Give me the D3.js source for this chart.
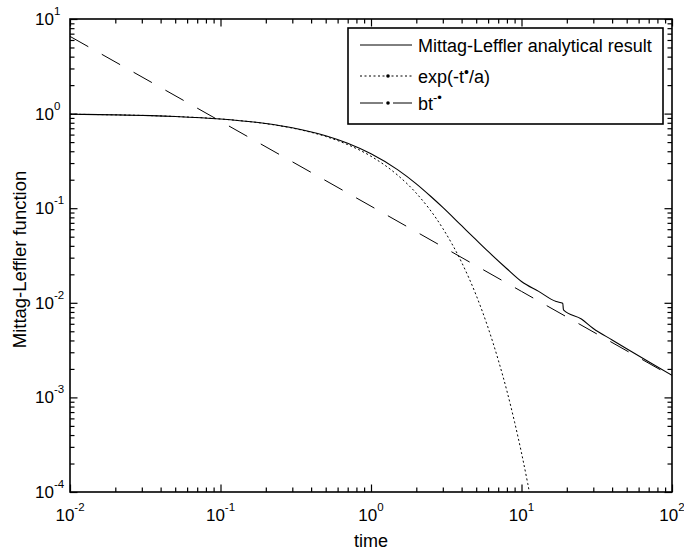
<!DOCTYPE html>
<html>
<head>
<meta charset="utf-8">
<script src="https://cdn.jsdelivr.net/npm/d3@7"></script>
<style>
  body { margin: 0; background: #fff; }
  text { font-family: "Liberation Sans", Arial, sans-serif; fill: #000; }
</style>
</head>
<body>
<div id="chart-area"></div>
<script>
// values
let timeML = [0.01, 0.02, 0.05, 0.1, 0.2, 0.3, 0.5, 0.7, 1, 1.5, 2, 2.5, 3, 4, 5, 6, 8, 10, 13, 17, 18.8, 19, 25, 30, 40, 50, 70, 100];
let valML  = [0.984, 0.970, 0.933, 0.878, 0.786, 0.708, 0.583, 0.486, 0.376, 0.256, 0.181, 0.133, 0.102, 0.0653, 0.0462, 0.0349, 0.0229, 0.0168, 0.0132, 0.0103, 0.0099, 0.0084, 0.00673, 0.00535, 0.00405, 0.00327, 0.00238, 0.00171];

let timeExp = [0.01, 0.02, 0.05, 0.1, 0.2, 0.3, 0.5, 0.7, 1, 1.5, 2, 3, 4, 5, 6, 7, 8, 9, 10, 11, 12];
let valExp  = [0.984, 0.970, 0.932, 0.877, 0.783, 0.703, 0.573, 0.470, 0.354, 0.224, 0.144, 0.0611, 0.0268, 0.0120, 0.00544, 0.0025, 0.00117, 0.000547, 0.000259, 0.000123, 0.0000591];

let timePow = [0.01, 0.1, 1, 10, 100];
let valPow  = [6.55, 0.83, 0.105, 0.0132, 0.00167];

let xTickExps = [-2, -1, 0, 1, 2];
let yTickExps = [-4, -3, -2, -1, 0, 1];

let legendLabels = ["Mittag-Leffler analytical result", "exp(-t", "bt"];

let margin = {top: 19, right: 12, bottom: 62, left: 70};
let width = 684 - margin.left - margin.right;
let height = 554 - margin.top - margin.bottom;

let svg = d3.select("#chart-area").append("svg")
    .attr("width", 684)
    .attr("height", 554)
  .append("g")
    .attr("transform", "translate(" + margin.left + "," + margin.top + ")");

let x = d3.scaleLog().domain([1e-2, 1e2]).range([0, width]);
let y = d3.scaleLog().domain([1e-4, 1e1]).range([height, 0]);

let xMajor = xTickExps.map(e => Math.pow(10, e));
let yMajor = yTickExps.map(e => Math.pow(10, e));
let minorOf = majors => {
  let out = [];
  majors.slice(0, -1).forEach(m => { for (let k = 2; k <= 9; k++) out.push(m * k); });
  return out;
};
let xMinor = minorOf(xMajor);
let yMinor = minorOf(yMajor);

// ticks point inward on all four sides
function tickSide(axisFn, scale, vals, size, transform) {
  let g = svg.append("g")
    .attr("transform", transform)
    .call(axisFn(scale).tickValues(vals).tickSize(-size).tickFormat(""));
  g.select(".domain").remove();
  g.selectAll("line").attr("stroke", "#000").attr("stroke-width", 1.2);
}
tickSide(d3.axisBottom, x, xMajor, 7.5, "translate(0," + height + ")");
tickSide(d3.axisBottom, x, xMinor, 4.5, "translate(0," + height + ")");
tickSide(d3.axisTop, x, xMajor, 7.5, "translate(0,0)");
tickSide(d3.axisTop, x, xMinor, 4.5, "translate(0,0)");
tickSide(d3.axisLeft, y, yMajor, 7.5, "translate(0,0)");
tickSide(d3.axisLeft, y, yMinor, 4.5, "translate(0,0)");
tickSide(d3.axisRight, y, yMajor, 7.5, "translate(" + width + ",0)");
tickSide(d3.axisRight, y, yMinor, 4.5, "translate(" + width + ",0)");

// tick labels 10^n
let xl = svg.selectAll(".xlab").data(xTickExps).enter().append("text")
  .attr("class", "xlab")
  .attr("x", d => x(Math.pow(10, d)))
  .attr("y", height + 29)
  .attr("text-anchor", "middle")
  .style("font-size", "17px");
xl.append("tspan").text("10");
xl.append("tspan").attr("dy", -10).style("font-size", "11.5px").text(d => d);

let yl = svg.selectAll(".ylab").data(yTickExps).enter().append("text")
  .attr("class", "ylab")
  .attr("x", -35)
  .attr("y", d => y(Math.pow(10, d)) + 6)
  .attr("text-anchor", "start")
  .style("font-size", "17px");
yl.append("tspan").text("10");
yl.append("tspan").attr("dy", -10).style("font-size", "11.5px").text(d => d);

// axis titles
svg.append("text")
  .attr("x", width / 2)
  .attr("y", height + 55)
  .attr("text-anchor", "middle")
  .style("font-size", "18px")
  .text("time");

svg.append("text")
  .attr("transform", "rotate(-90)")
  .attr("x", -height / 2 - 4)
  .attr("y", -44)
  .attr("text-anchor", "middle")
  .style("font-size", "18.5px")
  .text("Mittag-Leffler function");

// curves
svg.append("clipPath").attr("id", "clip")
  .append("rect").attr("width", width).attr("height", height);

let line = d3.line().x(d => x(d[0])).y(d => y(d[1])).curve(d3.curveMonotoneX);
let curves = svg.append("g").attr("clip-path", "url(#clip)");

curves.append("path")
  .datum(d3.zip(timePow, valPow))
  .attr("d", line)
  .attr("fill", "none").attr("stroke", "#000").attr("stroke-width", 1)
  .attr("stroke-dasharray", "21,15.5");

curves.append("path")
  .datum(d3.zip(timeExp, valExp))
  .attr("d", line)
  .attr("fill", "none").attr("stroke", "#000").attr("stroke-width", 1)
  .attr("stroke-dasharray", "2,2.5");

curves.append("path")
  .datum(d3.zip(timeML, valML))
  .attr("d", line)
  .attr("fill", "none").attr("stroke", "#000").attr("stroke-width", 1.1);

// frame
svg.append("rect")
  .attr("width", width).attr("height", height)
  .attr("fill", "none").attr("stroke", "#000").attr("stroke-width", 1.6);

// legend
let leg = svg.append("g").attr("transform", "translate(" + (348 - margin.left) + "," + (28 - margin.top) + ")");
leg.append("rect")
  .attr("width", 315).attr("height", 96)
  .attr("fill", "#fff").attr("stroke", "#000").attr("stroke-width", 1.6);

let rowY = [17, 48, 75];
let dashes = [null, "2,2.5", "23,10,19"];
rowY.forEach((ry, i) => {
  let l = leg.append("line")
    .attr("x1", 12).attr("x2", 64).attr("y1", ry).attr("y2", ry)
    .attr("stroke", "#000").attr("stroke-width", 1);
  if (dashes[i]) l.attr("stroke-dasharray", dashes[i]);
  if (i > 0) leg.append("circle").attr("cx", 40).attr("cy", ry).attr("r", 1.8).attr("fill", "#000");
});

leg.append("text").attr("x", 70).attr("y", rowY[0] + 6.5)
  .style("font-size", "18px").text(legendLabels[0]);

let t2 = leg.append("text").attr("x", 70).attr("y", rowY[1] + 6.5).style("font-size", "18px");
t2.append("tspan").text(legendLabels[1]);
t2.append("tspan").attr("dy", -6).style("font-size", "14px").text("•");
t2.append("tspan").attr("dy", 6).text("/a)");

let t3 = leg.append("text").attr("x", 70).attr("y", rowY[2] + 6.5).style("font-size", "18px");
t3.append("tspan").text(legendLabels[2]);
t3.append("tspan").attr("dy", -8).style("font-size", "13px").text("-•");
</script>
</body>
</html>
